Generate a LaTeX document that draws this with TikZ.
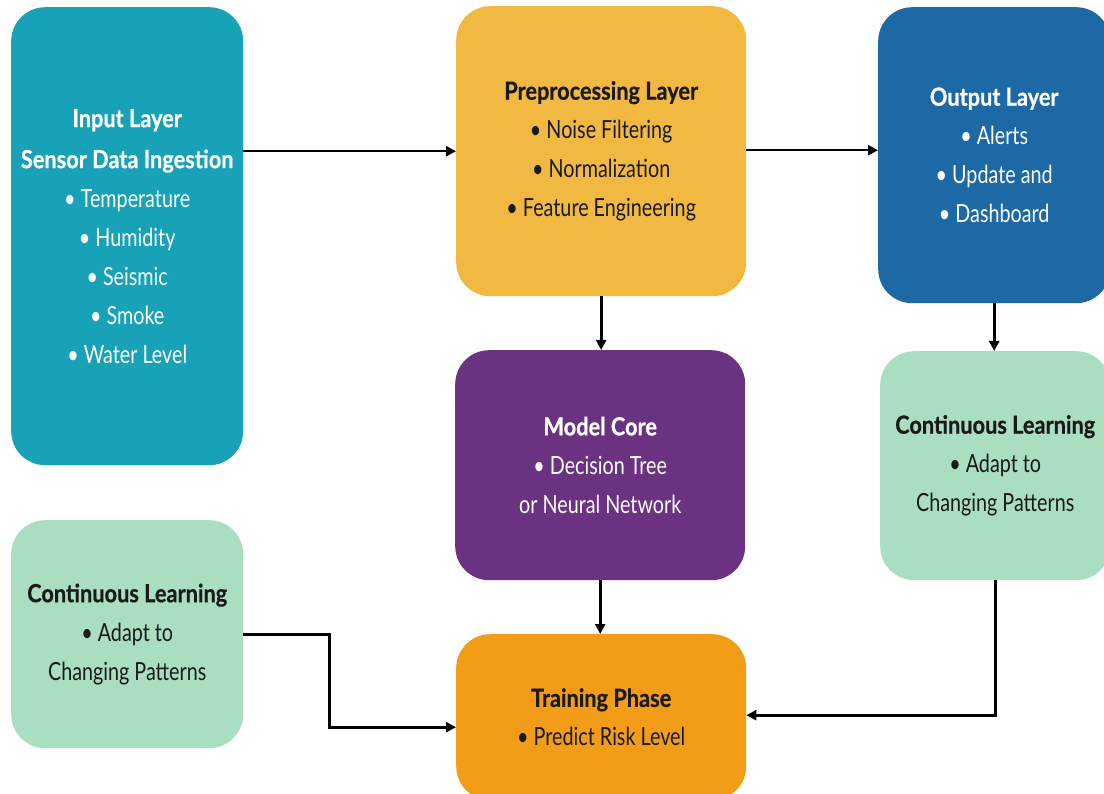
\documentclass[tikz,border=0pt]{standalone}
\usepackage{fontspec}
\setmainfont[FakeStretch=0.79, BoldFeatures={FakeStretch=0.87, FakeBold=0.6}]{Lato}
\usetikzlibrary{arrows.meta}
\definecolor{cteal}{HTML}{18A2B8}
\definecolor{cyellow}{HTML}{F1B842}
\definecolor{cblue}{HTML}{1D69A5}
\definecolor{cpurple}{HTML}{6B3282}
\definecolor{corange}{HTML}{F29C17}
\definecolor{cgreen}{HTML}{A9DEC1}
\definecolor{cdark}{HTML}{1A1A1A}
\begin{document}
\begin{tikzpicture}[x=1pt,y=-1pt,
  box/.style={rounded corners=34pt, inner sep=0pt, align=center, anchor=north west,
    font=\fontsize{25}{39}\selectfont},
  light/.style={box, text=white},
  darktext/.style={box, text=cdark},
  conn/.style={line width=2.6pt, draw=black, -{Triangle[length=10pt,width=10pt]}}]
\fill[white] (0,0) rectangle (1104,794);
\useasboundingbox (0,0) rectangle (1104,794);
\node[light, fill=cteal, minimum width=232pt, minimum height=458pt] (inp) at (11,7)
  {\textbf{Input Layer}\\[2pt] \textbf{Sensor Data Ingestion}\\ • Temperature\\ • Humidity\\ • Seismic\\ • Smoke\\ • Water Level};
\node[darktext, fill=cyellow, minimum width=290pt, minimum height=290pt] (pre) at (456,6)
  {\textbf{Preprocessing Layer}\\ • Noise Filtering\\ • Normalization\\ • Feature Engineering};
\node[light, fill=cblue, minimum width=232pt, minimum height=296pt] (out) at (878,7)
  {\textbf{Output Layer}\\ • Alerts\\ • Update and\\ • Dashboard};
\node[light, fill=cpurple, minimum width=290pt, minimum height=230pt] (mod) at (455,350)
  {\textbf{Model Core}\\ • Decision Tree\\ or Neural Network};
\node[darktext, fill=cgreen, minimum width=230pt, minimum height=229pt] (clr) at (880,351)
  {\textbf{Continuous Learning}\\ • Adapt to\\ Changing Patterns};
\node[darktext, fill=cgreen, minimum width=232pt, minimum height=228pt] (cll) at (11,520)
  {\textbf{Continuous Learning}\\ • Adapt to\\ Changing Patterns};
\node[darktext, fill=corange, minimum width=290pt, minimum height=166pt] (trn) at (456,634)
  {\textbf{Training Phase}\\ • Predict Risk Level};
\draw[conn] (inp.east |- pre.west) -- (pre.west);
\draw[conn] ([yshift=1pt]pre.east) -- ([yshift=1pt]pre.east -| out.west);
\draw[conn] (pre.south) -- (pre.south |- mod.north);
\draw[conn] (mod.south) -- (mod.south |- trn.north);
\draw[conn] (out.south) -- (out.south |- clr.north);
\draw[conn] (clr.south) |- ([yshift=2pt]trn.east);
\draw[conn] (cll.east) -- ++(86,0) |- ([yshift=-10pt]trn.west);
\end{tikzpicture}
\end{document}
